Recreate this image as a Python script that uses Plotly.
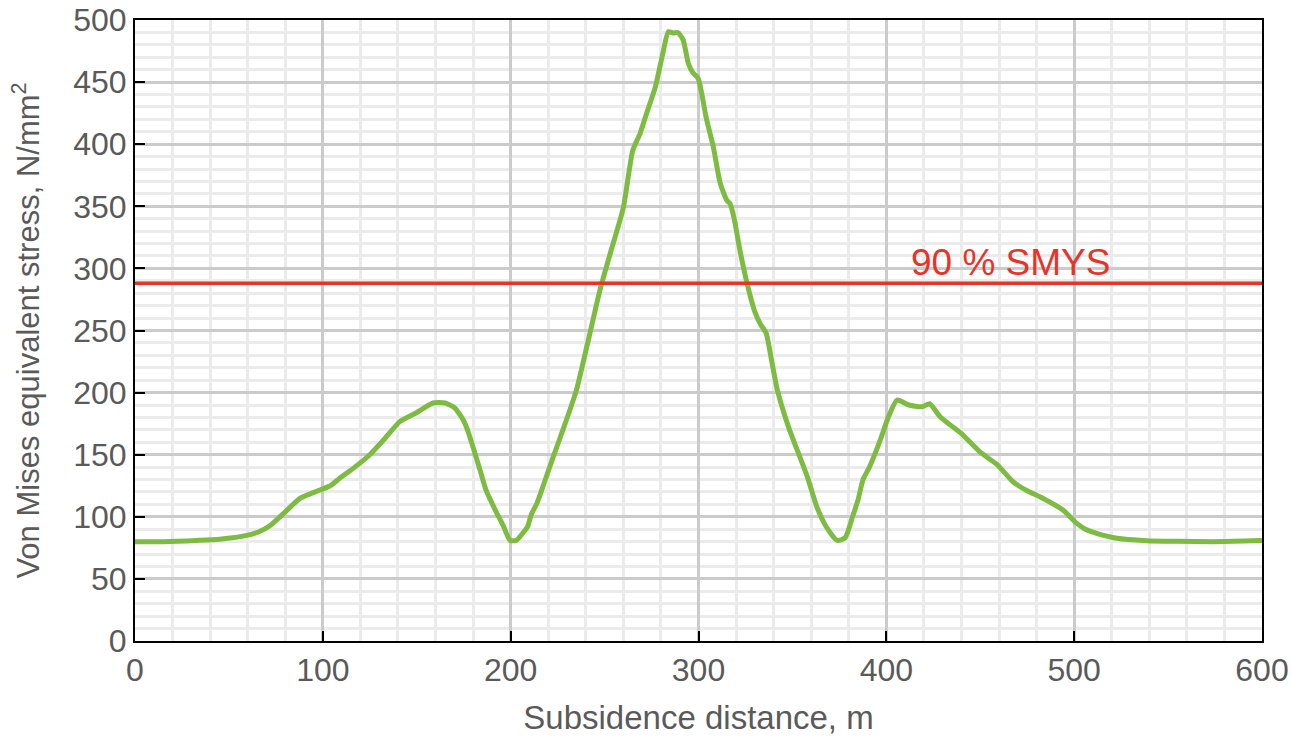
import plotly.graph_objects as go

# subsidence distance (m) and von Mises stress (N/mm2)
distance = [0, 15, 33, 45, 59.5, 66, 72, 80, 88, 98.5, 104, 109, 117, 125, 133, 141,
            150, 158.7, 165, 170, 174.8, 177, 180, 184, 187, 192.6, 196, 199.7, 203,
            206, 209, 211, 214, 218, 222.6, 229, 235, 241, 247.6, 253, 260, 265, 269,
            272.4, 277, 281, 284, 286.5, 289, 291.8, 294.6, 297, 299.8, 301.7, 304,
            308, 311.5, 315, 316.8, 319, 322, 325.7, 330, 333, 336, 339, 342, 348,
            354, 358, 363, 368, 373.8, 378, 382, 385, 387.6, 391, 396.8, 401, 405.7,
            412, 419, 423, 428.6, 434, 440, 450, 459, 467.6, 475, 482, 494, 501.4,
            506, 512, 522.7, 538.7, 555, 574, 590, 600]
stress = [80, 80, 81, 82, 85, 88, 93, 104, 115, 121.6, 125, 131, 140, 150, 163, 176.6,
          184, 191.6, 191.6, 188, 178, 170, 156, 136, 121, 103, 93, 81, 81,
          86, 92, 102, 111, 128, 148, 175, 202, 240, 283, 312, 349, 395, 409,
          425, 446, 473, 490.6, 489.5, 490, 484, 465, 457.6, 453, 441, 422,
          397, 369, 355, 352, 340, 315, 289, 265, 255, 248, 225, 202, 172,
          148, 132, 108, 92, 81, 83, 100, 114, 130, 140, 162, 180, 194,
          190, 188.6, 191, 180.6, 174, 167, 152, 142, 128, 121, 116, 105.5, 94.7,
          90, 86.7, 82.7, 80.8, 80.3, 80, 80.5, 81]

smys_90 = 288
smys_label = "90 % SMYS"

gray = "#5a5a5a"

fig = go.Figure()
fig.add_trace(go.Scatter(x=distance, y=stress, mode="lines",
                         line=dict(color="#7dbb42", width=5, shape="spline", smoothing=0.6),
                         showlegend=False))
fig.add_trace(go.Scatter(x=[0, 600], y=[smys_90, smys_90], mode="lines",
                         line=dict(color="#e8332a", width=3.5), showlegend=False))

fig.add_annotation(x=466, y=smys_90, yshift=21, text=smys_label, showarrow=False,
                   font=dict(color="#e8332a", size=37))

fig.update_layout(
    width=1292, height=738,
    margin=dict(l=135, r=30, t=20, b=97),
    plot_bgcolor="white", paper_bgcolor="white",
    font=dict(family="Liberation Sans, Arial, sans-serif", color=gray, size=33),
)
fig.update_xaxes(
    range=[0, 600], dtick=100, tick0=0, automargin=False,
    showline=True, linecolor="black", linewidth=2, mirror=True,
    ticks="inside", ticklen=10, tickwidth=2, tickcolor="black",
    showgrid=True, gridcolor="#cbcbcb", gridwidth=2.5,
    minor=dict(dtick=20, showgrid=True, gridcolor="#ebebeb", gridwidth=2.5),
    zeroline=False, tickfont=dict(size=32, color=gray),
    title=dict(text="Subsidence distance, m", font=dict(size=33, color=gray), standoff=18),
)
fig.update_yaxes(
    range=[0, 500], dtick=50, tick0=0, automargin=False,
    showline=True, linecolor="black", linewidth=2, mirror=True,
    ticks="inside", ticklen=10, tickwidth=2, tickcolor="black",
    showgrid=True, gridcolor="#cbcbcb", gridwidth=2.5,
    minor=dict(dtick=10, showgrid=True, gridcolor="#ebebeb", gridwidth=2.5),
    zeroline=False, tickfont=dict(size=32, color=gray),
    title=dict(text="Von Mises equivalent stress, N/mm<sup>2</sup>",
               font=dict(size=31, color=gray), standoff=24),
)

# drop the default page margin so the figure sits at the window corner
fig.write_html("out.html", config={"displayModeBar": False},
               post_script="document.body.style.margin='0';")
